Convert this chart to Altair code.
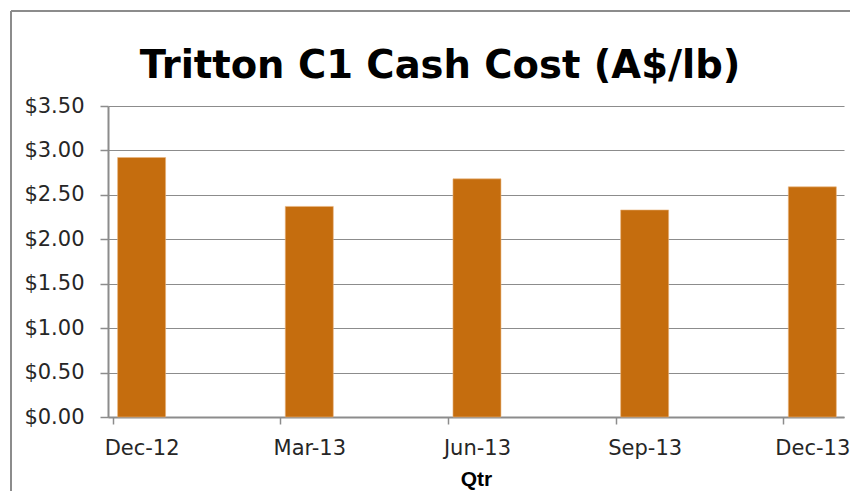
import altair as alt
import pandas as pd

quarters = ["Dec-12", "Mar-13", "Jun-13", "Sep-13", "Dec-13"]
cash_cost = [2.92, 2.37, 2.68, 2.33, 2.59]
y_ticks = [0, 0.5, 1.0, 1.5, 2.0, 2.5, 3.0, 3.5]

df = pd.DataFrame({"idx": list(range(len(quarters))), "Qtr": quarters, "cost": cash_cost})

label_expr = "[" + ",".join(f"'{q}'" for q in quarters) + "][datum.value]"

GRAY = "#8c8c8c"
TEXT = "#262626"
FONT = "DejaVu Sans"

bars = alt.Chart(df).mark_bar(size=48, color="#C56D0E", stroke="#E9B57F", strokeWidth=0.6).encode(
    x=alt.X(
        "idx:Q",
        scale=alt.Scale(domain=[-0.1706, 4.159], nice=False, zero=False),
        axis=alt.Axis(
            title="Qtr",
            values=list(range(len(quarters))),
            labelExpr=label_expr,
            tickOffset=-29,
            labelOffset=29,
            grid=False,
            tickSize=7,
            labelPadding=13,
            titleFontSize=21,
            titleFontWeight="bold",
            titleFont="Liberation Sans",
            titleColor="#000000",
            titlePadding=10,
        ),
    ),
    y=alt.Y(
        "cost:Q",
        scale=alt.Scale(domain=[0, 3.5], nice=False),
        axis=alt.Axis(
            title=None,
            values=y_ticks,
            format="$.2f",
            grid=True,
            tickSize=8,
            labelPadding=16,
        ),
    ),
)

frame_top = alt.Chart(df).mark_rule(color=GRAY, strokeWidth=1.5).encode(
    x=alt.value(-97), x2=alt.value(800), y=alt.value(-95)
)
frame_left = alt.Chart(df).mark_rule(color=GRAY, strokeWidth=1.5).encode(
    x=alt.value(-97), y=alt.value(-95), y2=alt.value(400)
)

chart = (
    alt.layer(frame_top, frame_left, bars)
    .properties(
        width=736,
        height=311,
        autosize=alt.AutoSizeParams(type="none"),
        padding={"left": 100, "right": 6, "top": 98, "bottom": 76},
        title=alt.TitleParams(
            "Tritton C1 Cash Cost (A$/lb)",
            fontSize=38.5,
            font=FONT,
            fontWeight="bold",
            color="#000000",
            anchor="middle",
            baseline="alphabetic",
            dx=-36,
            offset=-106,
            frame="group",
        ),
    )
    .configure_view(stroke=None)
    .configure_axis(
        labelFont=FONT,
        labelFontSize=21,
        labelColor=TEXT,
        domainColor=GRAY,
        domainWidth=2,
        tickColor=GRAY,
        tickWidth=1.5,
        gridColor=GRAY,
        gridWidth=1.2,
    )
)

chart.save("out.html", embed_options={"renderer": "svg", "actions": False})
